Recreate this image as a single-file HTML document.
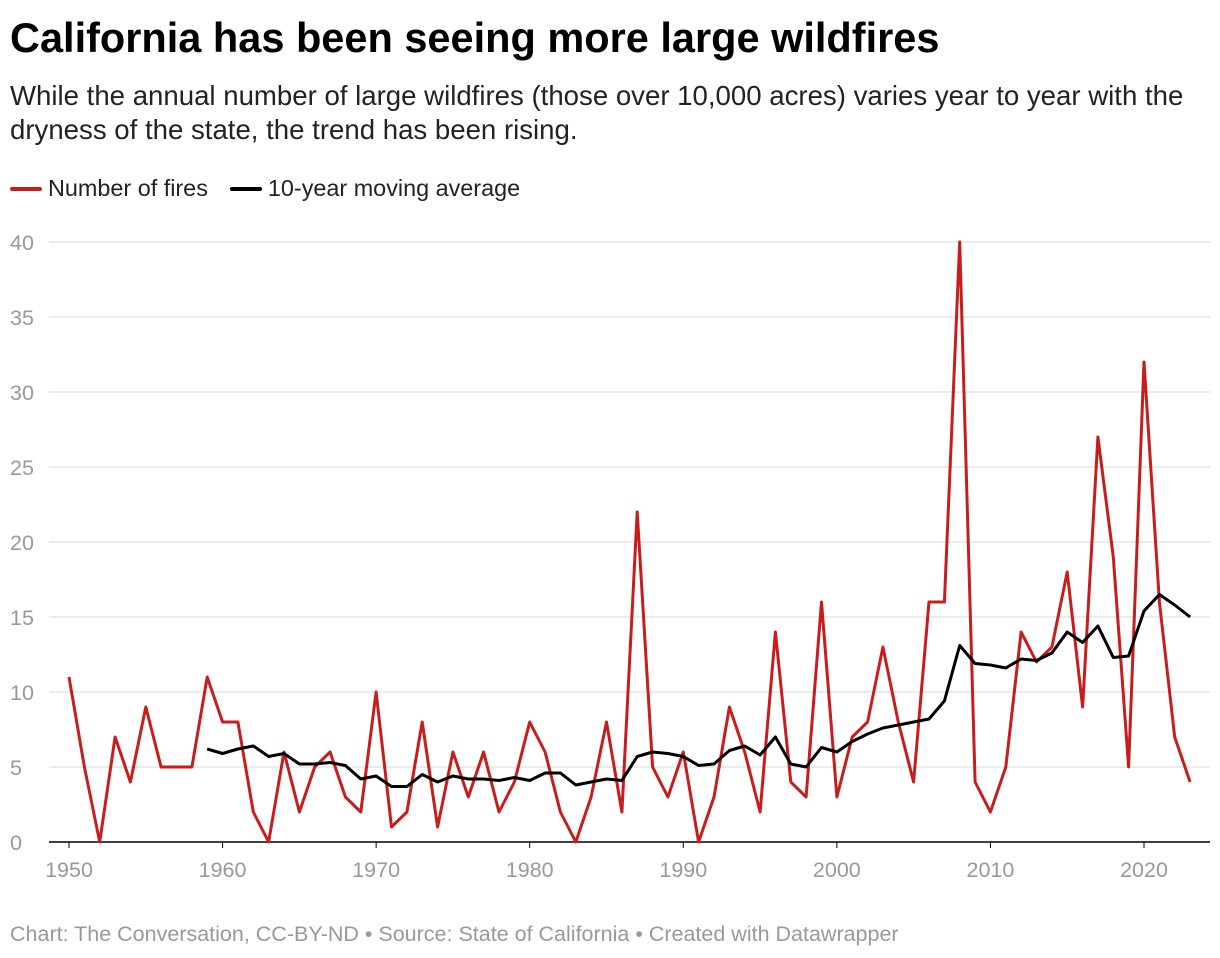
<!DOCTYPE html>
<html><head><meta charset="utf-8"><style>
body{margin:0;width:1220px;height:958px;background:#fff;font-family:"Liberation Sans",sans-serif;overflow:hidden;position:relative}
.t{position:absolute;left:10px;top:14px;font-size:41.5px;font-weight:bold;color:#000;margin:0;letter-spacing:0px;white-space:nowrap}
.s{position:absolute;left:10px;top:79px;font-size:27.6px;line-height:34px;color:#222;width:1205px}
.lg{position:absolute;top:175px;left:10px;font-size:23.4px;color:#222;display:flex;gap:22px}
.lg span{display:flex;align-items:center}
.lg i{display:inline-block;width:32px;height:4px;border-radius:2px;margin-right:6px}
.f{position:absolute;left:10px;top:922px;font-size:21.5px;color:#999;white-space:nowrap}
svg{position:absolute;left:0;top:0}
</style></head><body>
<h1 class="t">California has been seeing more large wildfires</h1>
<div class="s">While the annual number of large wildfires (those over 10,000 acres) varies year to year with the dryness of the state, the trend has been rising.</div>
<div class="lg">
<span><i style="background:#c71e1d"></i>Number of fires</span>
<span><i style="background:#000"></i>10-year moving average</span>
</div>
<svg id="c" width="1220" height="958"></svg>
<div class="f">Chart: The Conversation, CC-BY-ND • Source: State of California • Created with Datawrapper</div>
<script>
const startYear = 1950;
const fires = [11,5,0,7,4,9,5,5,5,11,8,8,2,0,6,2,5,6,3,2,10,1,2,8,1,6,3,6,2,4,8,6,2,0,3,8,2,22,5,3,6,0,3,9,6,2,14,4,3,16,3,7,8,13,8,4,16,16,40,4,2,5,14,12,13,18,9,27,19,5,32,16,7,4];
const avgStart = 1959;
const movingAvg = [6.2,5.9,6.2,6.4,5.7,5.9,5.2,5.2,5.3,5.1,4.2,4.4,3.7,3.7,4.5,4.0,4.4,4.2,4.2,4.1,4.3,4.1,4.6,4.6,3.8,4.0,4.2,4.1,5.7,6.0,5.9,5.7,5.1,5.2,6.1,6.4,5.8,7.0,5.2,5.0,6.3,6.0,6.7,7.2,7.6,7.8,8.0,8.2,9.4,13.1,11.9,11.8,11.6,12.2,12.1,12.6,14.0,13.3,14.4,12.3,12.4,15.4,16.5,15.8,15.0];
const yTicks = [0,5,10,15,20,25,30,35,40];
const xTicks = [1950,1960,1970,1980,1990,2000,2010,2020];
const NS='http://www.w3.org/2000/svg';
const svg=document.getElementById('c');
const X=y=>69+(y-1950)*(1144-69)/70;
const Y=v=>842-v*15;
function mk(t,a){const e=document.createElementNS(NS,t);for(const k in a)e.setAttribute(k,a[k]);svg.appendChild(e);return e;}
yTicks.forEach(v=>{
  const g=mk('line',{x1:49,x2:1210,y1:Y(v),y2:Y(v),stroke:v===0?'#000':'#e0e0e0','stroke-width':v===0?1.5:1.2});
  
  
  const t=mk('text',{x:10,y:Y(v)+8,'font-size':21.5,fill:'#999','font-family':'Liberation Sans, sans-serif'});
  t.textContent=v;
  
  
});
xTicks.forEach(yr=>{
  const k=mk('line',{x1:X(yr),x2:X(yr),y1:842,y2:848,stroke:'#000','stroke-width':1});
  
  
  const t=mk('text',{x:X(yr),y:877,'font-size':21.5,fill:'#999','text-anchor':'middle','font-family':'Liberation Sans, sans-serif'});
  t.textContent=yr;
  
  
});
const pf=fires.map((v,i)=>X(startYear+i).toFixed(1)+','+Y(v).toFixed(1)).join(' ');
const l1=mk('polyline',{points:pf,fill:'none',stroke:'#c71e1d','stroke-width':3,'stroke-linejoin':'round'});


const pa=movingAvg.map((v,i)=>X(avgStart+i).toFixed(1)+','+Y(v).toFixed(1)).join(' ');
const l2=mk('polyline',{points:pa,fill:'none',stroke:'#000','stroke-width':3,'stroke-linejoin':'round'});


</script>
</body></html>
